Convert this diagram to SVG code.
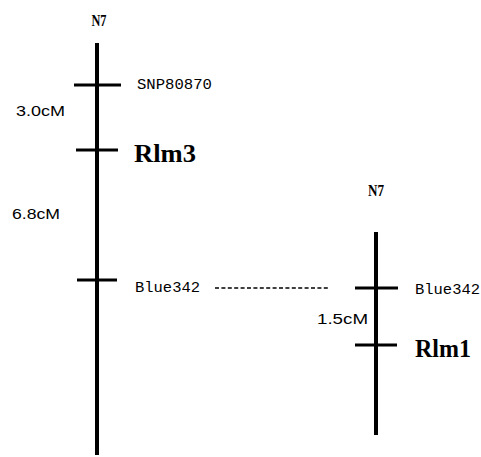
<svg xmlns="http://www.w3.org/2000/svg" width="481" height="457" viewBox="0 0 481 457">
<style>
.chr{stroke:#000;stroke-width:4;fill:none}
.tick{stroke:#000;stroke-width:3;fill:none}
.lbl{font-family:"Liberation Mono",monospace;font-size:15px;fill:#000}
.gene{font-family:"Liberation Serif",serif;font-size:25px;font-weight:bold;fill:#000}
.chn{font-family:"Liberation Serif",serif;font-size:16px;font-weight:bold;fill:#000}
.dist{font-family:"Liberation Sans",sans-serif;font-size:14px;fill:#000}
</style>
<rect width="481" height="457" fill="#fff"/>
<g id="chrN7-left">
<text class="chn" x="99" y="26" text-anchor="middle" textLength="15" lengthAdjust="spacingAndGlyphs">N7</text>
<line class="chr" x1="97" y1="43" x2="97" y2="455"/>
</g>
<g id="chrN7-right">
<text class="chn" x="376" y="196" text-anchor="middle" textLength="16" lengthAdjust="spacingAndGlyphs">N7</text>
<line class="chr" x1="376" y1="232" x2="376" y2="435"/>
</g>
<g id="m-SNP80870">
<line class="tick" x1="74" y1="85" x2="121" y2="85"/>
<text class="lbl" x="137" y="89" textLength="75" lengthAdjust="spacingAndGlyphs">SNP80870</text>
</g>
<g id="m-Rlm3">
<line class="tick" x1="76" y1="150" x2="118" y2="150"/>
<text class="gene" x="134" y="162" textLength="62" lengthAdjust="spacingAndGlyphs">Rlm3</text>
</g>
<g id="m-Blue342-left">
<line class="tick" x1="77" y1="280" x2="117" y2="280"/>
<text class="lbl" x="135" y="292" textLength="65" lengthAdjust="spacingAndGlyphs">Blue342</text>
</g>
<g id="m-Blue342-right">
<line class="tick" x1="355" y1="288" x2="398" y2="288"/>
<text class="lbl" x="415" y="294" textLength="65" lengthAdjust="spacingAndGlyphs">Blue342</text>
</g>
<g id="m-Rlm1">
<line class="tick" x1="355" y1="345" x2="397" y2="345"/>
<text class="gene" x="415" y="357" textLength="56" lengthAdjust="spacingAndGlyphs">Rlm1</text>
</g>
<g id="distances">
<text class="dist" x="16" y="116" textLength="49" lengthAdjust="spacingAndGlyphs">3.0cM</text>
<text class="dist" x="12" y="219" textLength="48" lengthAdjust="spacingAndGlyphs">6.8cM</text>
<text class="dist" x="317" y="324" textLength="51" lengthAdjust="spacingAndGlyphs">1.5cM</text>
</g>
<g id="connectors">
<line x1="215" y1="288" x2="330" y2="288" stroke="#000" stroke-width="1.3" stroke-dasharray="4 2.4"/>
</g>
</svg>
